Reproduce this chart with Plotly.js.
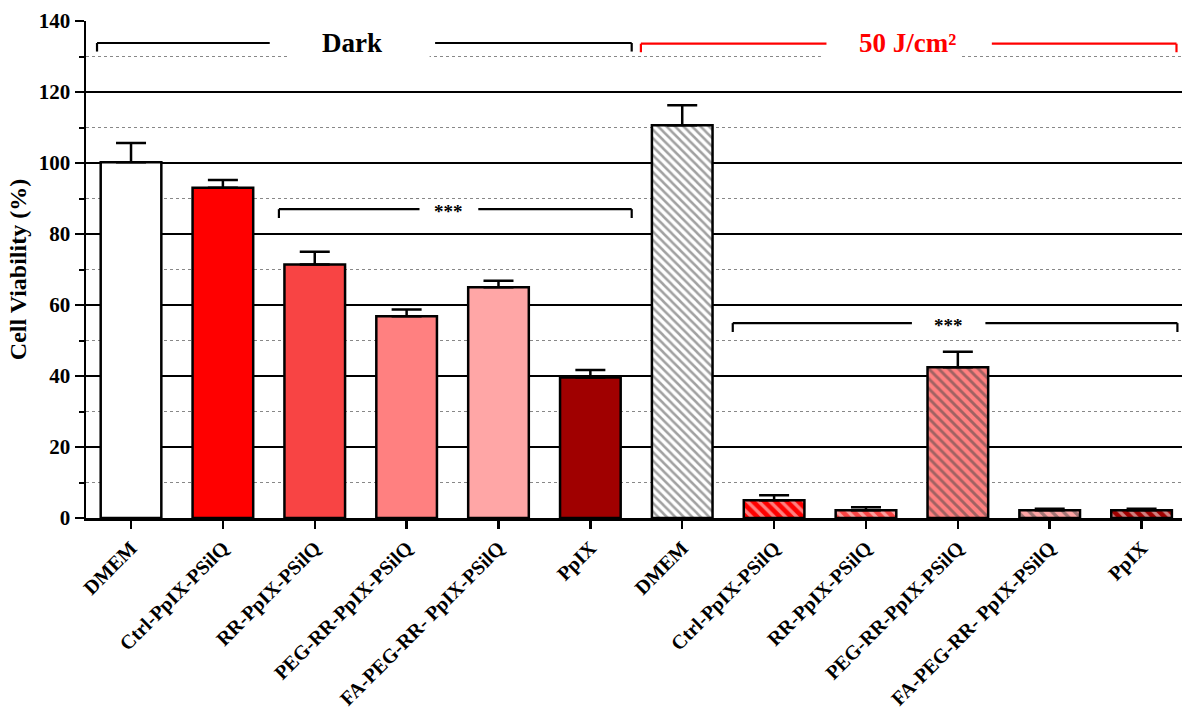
<!DOCTYPE html>
<html>
<head>
<meta charset="utf-8">
<script src="https://cdn.plot.ly/plotly-3.0.1.min.js"></script>
<style>
  html, body { margin: 0; padding: 0; background: #fff; }
  #chart { width: 1182px; height: 711px; }
</style>
</head>
<body>
<div id="chart"></div>
<script>
// Treatment groups: six in the dark, six after 50 J/cm² irradiation
const labels = [
  "DMEM", "Ctrl-PpIX-PSilQ", "RR-PpIX-PSilQ", "PEG-RR-PpIX-PSilQ", "FA-PEG-RR- PpIX-PSilQ", "PpIX",
  "DMEM", "Ctrl-PpIX-PSilQ", "RR-PpIX-PSilQ", "PEG-RR-PpIX-PSilQ", "FA-PEG-RR- PpIX-PSilQ", "PpIX"
];
// Mean cell viability (%)
const viability = [100.2, 93.0, 71.4, 56.8, 65.0, 39.6, 110.6, 5.0, 2.2, 42.5, 2.2, 2.2];
// Upper error (SD)
const errorUp = [5.4, 2.2, 3.6, 1.9, 1.8, 2.1, 5.7, 1.4, 0.8, 4.3, 0.4, 0.4];

const fills = ["#ffffff", "#ff0000", "#f84444", "#ff8080", "#ffa6a6", "#a00000",
               "#ffffff", "#ff0000", "#f84444", "#ff8080", "#ffa6a6", "#a00000"];
const hatch = ["", "", "", "", "", "", "\\", "\\", "\\", "\\", "\\", "\\"];
const hatchSize = [8, 8, 8, 8, 8, 8, 6, 8, 8, 7, 8, 8];

const xs = labels.map((_, i) => i);

const serif = "Liberation Serif, Times New Roman, serif";

const trace = {
  type: "bar",
  x: xs,
  y: viability,
  width: 0.66,
  marker: {
    color: fills,
    line: { color: "#000", width: 2.5 },
    pattern: {
      shape: hatch,
      fgcolor: xs.map(() => "#000"),
      size: hatchSize,
      solidity: 0.42,
      fillmode: "overlay"
    }
  },
  error_y: {
    type: "data", symmetric: false, array: errorUp,
    arrayminus: viability.map(() => 0),
    color: "#000", thickness: 2.5, width: 15
  },
  hoverinfo: "y"
};

// bracket helper: horizontal line with downward hooks, split around a label
function bracket(x0, x1, gapL, gapR, y, hook, color) {
  const line = { color: color, width: 2.2 };
  return [
    { type: "line", xref: "x", yref: "y", x0: x0, x1: gapL, y0: y, y1: y, line: line, layer: "above" },
    { type: "line", xref: "x", yref: "y", x0: gapR, x1: x1, y0: y, y1: y, line: line, layer: "above" },
    { type: "line", xref: "x", yref: "y", x0: x0, x1: x0, y0: y, y1: y - hook, line: line, layer: "above" },
    { type: "line", xref: "x", yref: "y", x0: x1, x1: x1, y0: y, y1: y - hook, line: line, layer: "above" }
  ];
}

const shapes = [
  // clear the dotted grid behind the group headings
  { type: "rect", xref: "x", yref: "y", x0: 1.70, x1: 3.25, y0: 125, y1: 138,
    fillcolor: "#fff", line: { width: 0 }, layer: "between" },
  { type: "rect", xref: "x", yref: "y", x0: 7.51, x1: 9.02, y0: 125, y1: 138,
    fillcolor: "#fff", line: { width: 0 }, layer: "between" },
  ...bracket(-0.37, 5.45, 1.51, 3.31, 133.8, 2.4, "#000"),
  ...bracket(5.55, 11.38, 7.57, 9.37, 133.6, 2.4, "#ff0000"),
  ...bracket(1.61, 5.45, 3.14, 3.78, 87.0, 2.5, "#000"),
  ...bracket(6.55, 11.39, 8.50, 9.30, 54.9, 2.5, "#000")
];

const annotations = [
  { x: 2.40, y: 133.8, xref: "x", yref: "y", text: "<b>Dark</b>", showarrow: false,
    font: { family: serif, size: 27, color: "#000" } },
  { x: 8.45, y: 133.8, xref: "x", yref: "y", text: "<b>50 J/cm²</b>", showarrow: false,
    font: { family: serif, size: 27, color: "#ff0000" } },
  { x: 3.46, y: 86.2, xref: "x", yref: "y", text: "<b>***</b>", showarrow: false,
    font: { family: serif, size: 19, color: "#000" } },
  { x: 8.90, y: 54.1, xref: "x", yref: "y", text: "<b>***</b>", showarrow: false,
    font: { family: serif, size: 19, color: "#000" } }
];

const layout = {
  width: 1182, height: 711,
  margin: { l: 86, r: 0, t: 21, b: 193 },
  paper_bgcolor: "#fff", plot_bgcolor: "#fff",
  showlegend: false,
  bargap: 0,
  xaxis: {
    range: [-0.49, 11.44],
    tickvals: xs,
    ticktext: labels.map(s => "<b>" + s + "</b>"),
    tickangle: -45,
    tickfont: { family: serif, size: 20, color: "#000" },
    ticks: "outside", ticklen: 8, tickwidth: 2.5, tickcolor: "#000",
    showline: true, linecolor: "#000", linewidth: 2.5,
    showgrid: false, zeroline: false, fixedrange: true, automargin: false
  },
  yaxis: {
    range: [0, 140],
    dtick: 20, tick0: 0,
    tickfont: { family: serif, size: 21, color: "#000" },
    tickprefix: "<b>", ticksuffix: "</b>",
    ticks: "outside", ticklen: 9, tickwidth: 2.5, tickcolor: "#000",
    showline: true, linecolor: "#000", linewidth: 2.5,
    showgrid: true, gridcolor: "#000", gridwidth: 2.2,
    zeroline: false,
    minor: {
      dtick: 10, tick0: 0,
      showgrid: true, gridcolor: "#888", griddash: "dot", gridwidth: 1.2,
      ticks: "outside", ticklen: 5, tickwidth: 2, tickcolor: "#000"
    },
    title: { text: "<b>Cell Viability (%)</b>", font: { family: serif, size: 24, color: "#000" }, standoff: 6 },
    fixedrange: true, automargin: false
  },
  shapes: shapes,
  annotations: annotations
};

Plotly.newPlot("chart", [trace], layout, { displayModeBar: false, staticPlot: true });
</script>
</body>
</html>
